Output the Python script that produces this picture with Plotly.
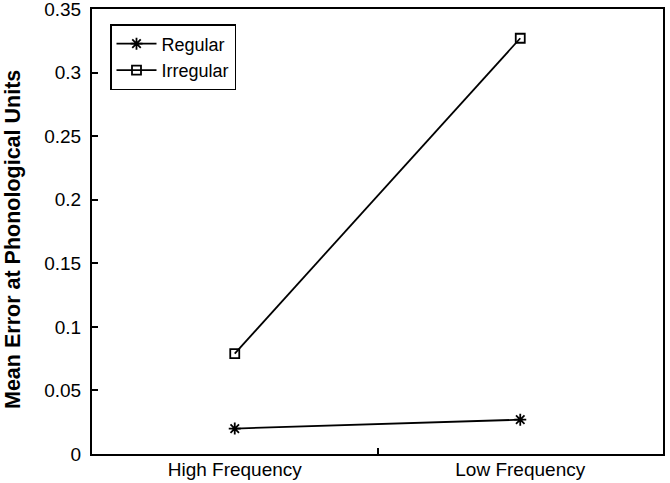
import plotly.graph_objects as go

categories = ["High Frequency", "Low Frequency"]
regular = [0.020, 0.027]
irregular = [0.079, 0.327]
y_ticks = [0, 0.05, 0.1, 0.15, 0.2, 0.25, 0.3, 0.35]
y_tick_labels = ["0", "0.05", "0.1", "0.15", "0.2", "0.25", "0.3", "0.35"]

W, H = 670, 483
L, R, T, B = 92, 7, 9, 29
pw, ph = W - L - R, H - T - B

fig = go.Figure()
fig.add_trace(go.Scatter(
    x=categories, y=regular, name="Regular", mode="lines+markers",
    line=dict(color="black", width=1.8),
    marker=dict(symbol="asterisk-open", size=10, color="black", line=dict(color="black", width=1.8)),
))
fig.add_trace(go.Scatter(
    x=categories, y=irregular, name="Irregular", mode="lines+markers",
    line=dict(color="black", width=1.8),
    marker=dict(symbol="square-open", size=9, color="black", line=dict(color="black", width=1.8)),
))

fig.add_annotation(
    text="<b>Mean Error at Phonological Units</b>",
    textangle=-90, xref="paper", yref="paper",
    x=(13 - L) / pw, y=(H - B - 240) / ph, xanchor="center", yanchor="middle",
    showarrow=False, font=dict(size=21.5, color="black"),
)

fig.update_layout(
    width=W, height=H,
    margin=dict(l=L, r=R, t=T, b=B, autoexpand=False),
    paper_bgcolor="white", plot_bgcolor="white",
    font=dict(family="Liberation Sans, Arial, sans-serif", size=19, color="black"),
    showlegend=True,
    legend=dict(
        x=(110 - L) / pw, y=(H - B - 24) / ph, xanchor="left", yanchor="top",
        bordercolor="black", borderwidth=1.5, bgcolor="white",
        font=dict(size=18), tracegroupgap=0, itemwidth=40,
    ),
    xaxis=dict(
        type="category", range=[-0.5, 1.5], tickson="boundaries",
        ticks="inside", ticklen=6, tickwidth=1.5, tickcolor="black",
        showline=True, linecolor="black", linewidth=2, mirror=True,
        showgrid=False, zeroline=False, automargin=False,
        ticklabelstandoff=-3, ticklabeloverflow="allow",
        tickfont=dict(size=19),
    ),
    yaxis=dict(
        range=[0, 0.35001], tickvals=y_ticks, ticktext=y_tick_labels,
        ticks="inside", ticklen=6, tickwidth=1.5, tickcolor="black",
        showline=True, linecolor="black", linewidth=2, mirror=True,
        showgrid=False, zeroline=False, automargin=False,
        ticklabelstandoff=5, ticklabeloverflow="allow",
        tickfont=dict(size=19),
    ),
)

fig.write_html("out.html", config={"displayModeBar": False},
               post_script="document.body.style.margin='0';")
